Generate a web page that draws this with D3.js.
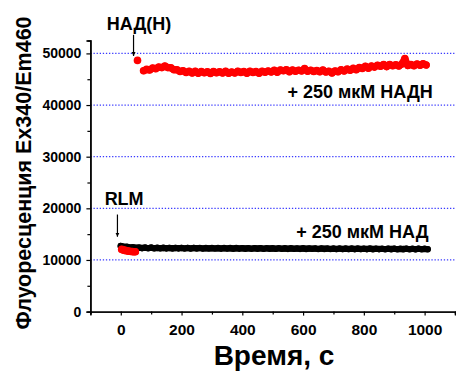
<!DOCTYPE html>
<html>
<head>
<meta charset="utf-8">
<script src="https://cdn.jsdelivr.net/npm/d3@7"></script>
<style>
  body { margin: 0; background: #fff; }
  text { font-family: Arial, "Liberation Sans", sans-serif; font-weight: bold; fill: #000; }
</style>
</head>
<body>
<div id="chart"></div>
<script>
// --- data ---
const xTicks = [0, 200, 400, 600, 800, 1000];
const yTicks = [0, 10000, 20000, 30000, 40000, 50000];
const gridValues = [10000, 20000, 30000, 40000, 50000];

// black trace: RLM + 250 uM NAD, sampled every 10 s from 0 s
const nadStart = 0, nadStep = 10;
const nadValues = [
  12700, 12550, 12550, 12400, 12450, 12350, 12400, 12300, 12380, 12280,
  12380, 12270, 12350, 12260, 12340, 12250, 12330, 12240, 12320, 12250,
  12330, 12230, 12320, 12220, 12320, 12240, 12310, 12210, 12300, 12230,
  12300, 12220, 12290, 12200, 12300, 12210, 12290, 12190, 12290, 12200,
  12280, 12190, 12270, 12180, 12280, 12190, 12270, 12170, 12260, 12190,
  12250, 12160, 12260, 12170, 12240, 12150, 12250, 12160, 12230, 12150,
  12240, 12140, 12230, 12160, 12220, 12130, 12230, 12140, 12210, 12130,
  12200, 12120, 12210, 12110, 12200, 12120, 12190, 12100, 12200, 12110,
  12180, 12100, 12190, 12090, 12180, 12100, 12170, 12080, 12180, 12090,
  12170, 12080, 12160, 12090, 12170, 12080, 12160, 12070, 12170, 12080,
  12160, 12080
];

// red trace, before NADH addition (RLM only)
const redPreTimes = [3, 8, 13, 18, 23, 28, 33, 38, 43, 48];
const redPreValues = [12050, 11950, 11850, 11800, 11750, 11700, 11650, 11620, 11600, 11600];

// first point right after the NADH addition
const redJumpTime = 55;
const redJumpValue = 48650;

// red trace after NADH, sampled every 10 s from 75 s
const nadhStart = 75, nadhStep = 10;
const nadhValues = [
  46650, 46900, 46800, 47150, 47050, 47350, 47250, 47550, 47250, 47200,
  46850, 46850, 46500, 46650, 46300, 46550, 46200, 46550, 46150, 46500,
  46250, 46450, 46100, 46500, 46250, 46450, 46200, 46550, 46150, 46400,
  46200, 46550, 46300, 46500, 46150, 46550, 46300, 46500, 46150, 46550,
  46350, 46600, 46400, 46750, 46350, 46800, 46650, 46850, 46450, 46800,
  46550, 46750, 46600, 47050, 46550, 46750, 46500, 46700, 46450, 46800,
  46400, 46550, 46200, 46600, 46450, 46850, 46600, 46950, 46750, 47100,
  46850, 47250, 47100, 47500, 47150, 47550, 47350, 47700, 47500, 47850,
  47450, 47850, 47600, 47800, 47550, 47950, 49000, 47650, 47850, 47600,
  47950, 47700, 48000, 47750
];

// annotations
const labelNadh = {text: "НАД(Н)", t: 60, v: 54550, arrowT: 42, from: 53600, to: 49500};
const labelRlm = {text: "RLM", t: 11, v: 20640, arrowT: -11, from: 18800, to: 14500};
const noteNadh = {text: "+ 250 мкМ НАДН", t: 1027, v: 41350};
const noteNad = {text: "+ 250 мкМ НАД", t: 1013, v: 14200};

// --- layout ---
const width = 456, height = 372;
const svg = d3.select("#chart").append("svg")
  .attr("width", width).attr("height", height);

const x = d3.scaleLinear().domain([-100, 1100]).range([90.4, 455]);
const y = d3.scaleLinear().domain([0, 52500]).range([311.6, 40.5]);

// grid
svg.append("g").selectAll("line")
  .data(gridValues)
  .enter().append("line")
  .attr("x1", x(-100)).attr("x2", x(1100))
  .attr("y1", d => y(d)).attr("y2", d => y(d))
  .attr("stroke", "#3a3aff")
  .attr("stroke-width", 1.2)
  .attr("stroke-dasharray", "1.3,1.8");

// axes
const xAxis = svg.append("g")
  .attr("transform", `translate(0,${y(0)})`)
  .call(d3.axisBottom(x).tickValues(xTicks).tickSize(4).tickPadding(8).tickFormat(d3.format("d")));
const xMinor = svg.append("g")
  .attr("transform", `translate(0,${y(0)})`)
  .call(d3.axisBottom(x).tickValues([-100, 100, 300, 500, 700, 900, 1100]).tickSize(3).tickFormat(""));

const yAxis = svg.append("g")
  .attr("transform", `translate(${x(-100)},0)`)
  .call(d3.axisLeft(y).tickValues(yTicks).tickSize(4).tickPadding(5).tickFormat(d3.format("d")));
const yMinor = svg.append("g")
  .attr("transform", `translate(${x(-100)},0)`)
  .call(d3.axisLeft(y).tickValues([5000, 15000, 25000, 35000, 45000]).tickSize(3).tickFormat(""));

[xAxis, xMinor, yAxis, yMinor].forEach(g => {
  g.select(".domain").attr("stroke", "#000").attr("stroke-width", 1.4);
  g.selectAll(".tick line").attr("stroke", "#000").attr("stroke-width", 1.2);
});
xAxis.selectAll("text").style("font-size", "15.5px").style("font-family", "Arial, 'Liberation Sans', sans-serif").style("font-weight", "bold");
yAxis.selectAll("text").style("font-size", "14px").style("font-family", "Arial, 'Liberation Sans', sans-serif").style("font-weight", "bold");

// axis titles
svg.append("text")
  .attr("x", 274).attr("y", 365)
  .attr("text-anchor", "middle")
  .style("font-size", "28px")
  .text("Время, с");

svg.append("text")
  .attr("transform", "translate(31,173) rotate(-90)")
  .attr("text-anchor", "middle")
  .style("font-size", "21.5px")
  .text("Флуоресценция Ex340/Em460");

// data points
const nadPts = nadValues.map((v, i) => ({t: nadStart + i * nadStep, v}));
const redPre = redPreTimes.map((t, i) => ({t, v: redPreValues[i]}));
const redMain = nadhValues.map((v, i) => ({t: nadhStart + i * nadhStep, v}));
const redPts = redPre.concat([{t: redJumpTime, v: redJumpValue}]).concat(redMain);

const line = d3.line().x(d => x(d.t)).y(d => y(d.v));

// dense traces: a thick band through the points plus the markers
svg.append("path")
  .datum(nadPts)
  .attr("d", line)
  .attr("fill", "none").attr("stroke", "#000")
  .attr("stroke-width", 6.2).attr("stroke-linecap", "round");

svg.append("g").selectAll("circle")
  .data(nadPts)
  .enter().append("circle")
  .attr("cx", d => x(d.t)).attr("cy", d => y(d.v))
  .attr("r", 3.3)
  .attr("fill", "#000");

[redPre, redMain].forEach(seg => {
  svg.append("path")
    .datum(seg)
    .attr("d", line)
    .attr("fill", "none").attr("stroke", "#ff0000")
    .attr("stroke-width", 7).attr("stroke-linecap", "round").attr("stroke-linejoin", "round");
});

svg.append("g").selectAll("circle")
  .data(redPts)
  .enter().append("circle")
  .attr("cx", d => x(d.t)).attr("cy", d => y(d.v))
  .attr("r", 3.8)
  .attr("fill", "#ff0000");

// arrows
svg.append("defs").append("marker")
  .attr("id", "head")
  .attr("viewBox", "0 0 10 10")
  .attr("refX", 10).attr("refY", 5)
  .attr("markerWidth", 4).attr("markerHeight", 5)
  .attr("markerUnits", "userSpaceOnUse")
  .attr("orient", "auto")
  .append("path")
  .attr("d", "M0,0L10,5L0,10Z")
  .attr("fill", "#000");

[labelNadh, labelRlm].forEach(a => {
  svg.append("line")
    .attr("x1", x(a.arrowT)).attr("x2", x(a.arrowT))
    .attr("y1", y(a.from)).attr("y2", y(a.to))
    .attr("stroke", "#000").attr("stroke-width", 1.2)
    .attr("marker-end", "url(#head)");
  svg.append("text")
    .attr("x", x(a.t)).attr("y", y(a.v))
    .attr("text-anchor", "middle")
    .style("font-size", "18px")
    .text(a.text);
});

[noteNadh, noteNad].forEach(n => {
  svg.append("text")
    .attr("x", x(n.t)).attr("y", y(n.v))
    .attr("text-anchor", "end")
    .style("font-size", "18px")
    .text(n.text);
});
</script>
</body>
</html>
